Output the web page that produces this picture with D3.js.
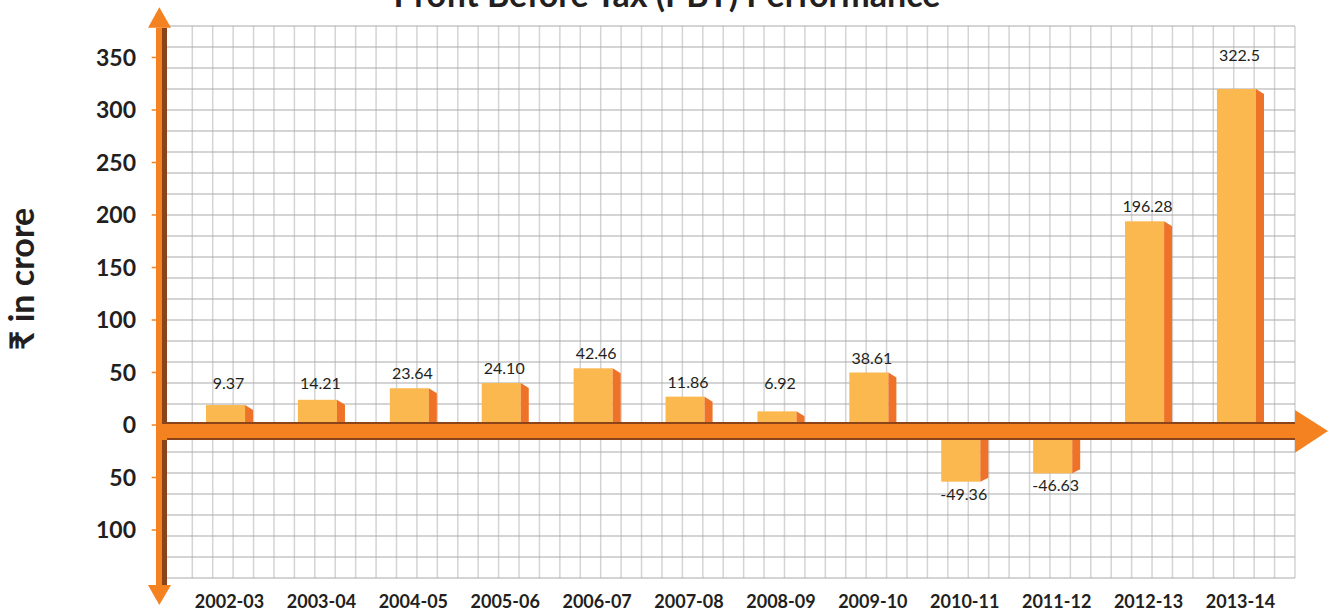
<!DOCTYPE html>
<html>
<head>
<meta charset="utf-8">
<script src="https://cdn.jsdelivr.net/npm/d3@7"></script>
<style>
	body { margin: 0; background: #fff; }
	svg { display: block; font-family: Lato, 'Noto Sans', 'DejaVu Sans', sans-serif; }
	.tick-label { font-weight: bold; font-size: 23px; fill: #231f20; }
	.year { font-weight: bold; font-size: 18px; fill: #231f20; }
	.value { font-size: 16px; fill: #231f20; }
</style>
</head>
<body>
<div class="box"></div>
<script>
// financial years on the x axis
var years = ['2002-03', '2003-04', '2004-05', '2005-06', '2006-07', '2007-08',
	'2008-09', '2009-10', '2010-11', '2011-12', '2012-13', '2013-14'];

// printed PBT values (rupees crore)
var pbtLabels = ['9.37', '14.21', '23.64', '24.10', '42.46', '11.86',
	'6.92', '38.61', '-49.36', '-46.63', '196.28', '322.5'];

// bar heights as they are drawn against the axis
var barLevels = [19, 24, 35, 40, 54, 27, 13, 50, -54, -46, 194, 320];

// y axis ticks
var yTicks = [350, 300, 250, 200, 150, 100, 50, 0, -50, -100];

var width = 1329, height = 615;
var orange = '#f58220', brown = '#8b4419';

var svg = d3.select('.box')
	.append('svg')
	.attr('width', width)
	.attr('height', height);

var y = d3.scaleLinear()
	.domain([-100, 350])
	.range([530, 57.5]);

var x = d3.scaleBand()
	.domain(years)
	.range([206, 1256])
	.paddingInner(0.575)
	.paddingOuter(0);

var gridLeft = 167, gridRight = 1295, gridTop = y(380), gridBottom = y(-140) + 6;
var bandTop = y(0) - 3, bandBottom = y(0) + 15;

// graph paper
var vLines = d3.range(0, 55).map(function(i) { return 192.3 + i * 20.42; });
svg.selectAll('line.vgrid')
	.data(vLines)
	.enter()
	.append('line')
		.attr('class', 'vgrid')
		.attr('x1', function(d) { return d; })
		.attr('x2', function(d) { return d; })
		.attr('y1', gridTop)
		.attr('y2', gridBottom)
		.style('stroke', '#d4d4d4')
		.style('stroke-width', 1.5);

var hAbove = d3.range(20, 381, 20).map(function(v) { return y(v); });
var hBelow = d3.range(-20, -141, -20).map(function(v) { return y(v) + 6; });
svg.selectAll('line.hgrid')
	.data(hAbove.concat(hBelow))
	.enter()
	.append('line')
		.attr('class', 'hgrid')
		.attr('x1', gridLeft)
		.attr('x2', gridRight)
		.attr('y1', function(d) { return d; })
		.attr('y2', function(d) { return d; })
		.style('stroke', '#a9a9a9')
		.style('stroke-width', 1);

// title (sits partly off the top of the picture, as in the original)
svg.append('text')
	.attr('x', 667)
	.attr('y', 7)
	.attr('text-anchor', 'middle')
	.style('font-weight', 'bold')
	.style('font-size', '34px')
	.style('fill', '#231f20')
	.text('Profit Before Tax (PBT) Performance');

// bars: front face and darker side face
var w = x.bandwidth(), side = 8;

var bars = svg.selectAll('g.bar')
	.data(years.map(function(yr, i) { return {year: yr, level: barLevels[i], label: pbtLabels[i]}; }))
	.enter()
	.append('g')
		.attr('class', 'bar');

bars.append('rect')
	.attr('x', function(d) { return x(d.year); })
	.attr('y', function(d) { return d.level >= 0 ? y(d.level) : bandBottom; })
	.attr('width', w)
	.attr('height', function(d) { return d.level >= 0 ? bandTop - y(d.level) : y(d.level) - bandBottom; })
	.style('fill', '#fbb84e');

bars.append('polygon')
	.attr('points', function(d) {
		var x0 = x(d.year) + w, x1 = x0 + side;
		if (d.level >= 0) {
			var t = y(d.level);
			return [[x0, t], [x1, t + 5], [x1, bandTop], [x0, bandTop]].join(' ');
		}
		var b = y(d.level);
		return [[x0, bandBottom], [x1, bandBottom], [x1, b - 4], [x0, b]].join(' ');
	})
	.style('fill', '#ee7227');

bars.append('text')
	.attr('class', 'value')
	.attr('x', function(d) { return x(d.year) + w / 2 + 3; })
	.attr('y', function(d) {
		if (d.level < 0) return y(d.level) + 18;
		if (d.level > 250) return y(d.level) - 28;
		return Math.min(y(d.level) - 9, y(34));
	})
	.attr('text-anchor', 'middle')
	.text(function(d) { return d.label; });

// vertical axis arrow
svg.append('rect')
	.attr('x', 156).attr('y', 27.7)
	.attr('width', 6).attr('height', 585 - 27.7)
	.style('fill', orange);
svg.append('rect')
	.attr('x', 162).attr('y', 27.7)
	.attr('width', 5).attr('height', 585 - 27.7)
	.style('fill', brown);
svg.append('polygon')
	.attr('points', '148,27.7 159.3,7.3 171,27.7')
	.style('fill', orange);
svg.append('polygon')
	.attr('points', '148,585 159.3,605 171,585')
	.style('fill', orange);

// horizontal axis band and arrow
svg.append('rect')
	.attr('x', 156).attr('y', bandTop)
	.attr('width', gridRight - 156).attr('height', bandBottom - bandTop)
	.style('fill', orange);
svg.append('rect')
	.attr('x', 162).attr('y', bandTop)
	.attr('width', gridRight - 162).attr('height', 2)
	.style('fill', brown);
svg.append('rect')
	.attr('x', 167).attr('y', bandBottom - 2)
	.attr('width', gridRight - 167).attr('height', 2)
	.style('fill', brown);
svg.append('polygon')
	.attr('points', [[gridRight, 410], [1328, y(0) + 6], [gridRight, 452.7]].join(' '))
	.style('fill', orange);

// y ticks and labels
var ticks = svg.selectAll('g.ytick')
	.data(yTicks)
	.enter()
	.append('g')
		.attr('class', 'ytick')
		.attr('transform', function(d) { return 'translate(0,' + y(d) + ')'; });

ticks.append('line')
	.attr('x1', 151.7).attr('x2', 156)
	.style('stroke', orange)
	.style('stroke-width', 1.5);

ticks.append('text')
	.attr('class', 'tick-label')
	.attr('x', 136)
	.attr('dy', '0.36em')
	.attr('text-anchor', 'end')
	.text(function(d) { return Math.abs(d); });

// x labels
svg.selectAll('text.year')
	.data(years)
	.enter()
	.append('text')
		.attr('class', 'year')
		.attr('x', function(d) { return x(d) + w / 2 + 4; })
		.attr('y', 608)
		.attr('text-anchor', 'middle')
		.text(function(d) { return d; });

// y axis title
svg.append('text')
	.attr('transform', 'translate(34,279) rotate(-90)')
	.attr('text-anchor', 'middle')
	.style('font-weight', 'bold')
	.style('font-size', '34px')
	.style('fill', '#231f20')
	.text('\u20b9 in crore');
</script>
</body>
</html>
